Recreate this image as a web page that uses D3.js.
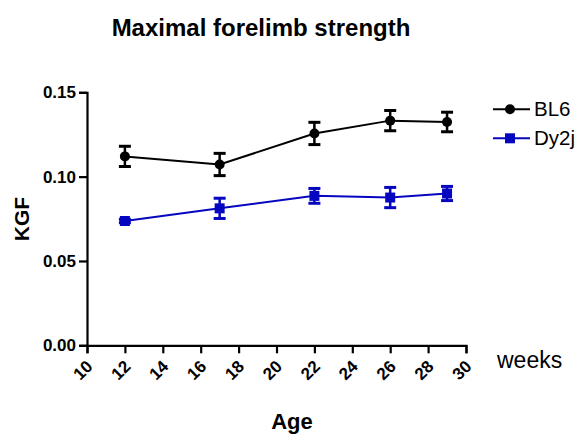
<!DOCTYPE html>
<html><head><meta charset="utf-8">
<script src="https://cdn.jsdelivr.net/npm/d3@7"></script>
<style>body{margin:0;background:#fff}svg{display:block}text{font-family:"Liberation Sans",Arial,sans-serif}</style>
</head><body>
<svg id="c" width="579" height="434"></svg>
<script>
const weeks = [12, 17, 22, 26, 29];
const bl6Mean = [0.1120, 0.1072, 0.1256, 0.1332, 0.1324];
const bl6Sem  = [0.0060, 0.0066, 0.0066, 0.0060, 0.0058];
const dyMean  = [0.0737, 0.0812, 0.0886, 0.0876, 0.0900];
const dySem   = [0.0010, 0.0060, 0.0044, 0.0060, 0.0042];
const xTicks = [10,12,14,16,18,20,22,24,26,28,30];
const yTicks = [0, 0.05, 0.10, 0.15];

const svg = d3.select("#c");
const x = d3.scaleLinear().domain([10,30]).range([87,466]);
const y = d3.scaleLinear().domain([0,0.15]).range([345.3,92.3]);

// title
svg.append("text").attr("x",261).attr("y",36).attr("text-anchor","middle")
  .attr("font-size",24).attr("font-weight","bold").text("Maximal forelimb strength");

// axes
const yAxis = d3.axisLeft(y).tickValues(yTicks).tickFormat(d3.format(".2f")).tickSizeOuter(0).tickSize(8).tickPadding(3);
const gy = svg.append("g").attr("transform","translate(87,0)").call(yAxis);
gy.select(".domain").attr("stroke","#000").attr("stroke-width",2.2);
gy.selectAll(".tick line").attr("stroke","#000").attr("stroke-width",2.2);
gy.selectAll(".tick text").attr("font-size",17).attr("font-weight","bold").attr("fill","#000")
  .attr("font-family","Liberation Sans, Arial, sans-serif");

const xAxis = d3.axisBottom(x).tickValues(xTicks).tickSizeOuter(0).tickSize(8).tickFormat(d=>d);
const gx = svg.append("g").attr("transform","translate(0,345.3)").call(xAxis);
gx.select(".domain").attr("stroke","#000").attr("stroke-width",2.2);
gx.selectAll(".tick line").attr("stroke","#000").attr("stroke-width",2.2);
gx.selectAll(".tick text").attr("font-size",17).attr("font-weight","bold").attr("fill","#000")
  .attr("font-family","Liberation Sans, Arial, sans-serif")
  .attr("text-anchor","end").attr("y",0).attr("dy","0.35em")
  .attr("transform","translate(2,18) rotate(-45)");

// axis titles
svg.append("text").attr("transform","translate(29,219) rotate(-90)").attr("text-anchor","middle")
  .attr("font-size",21).attr("font-weight","bold").text("KGF");
svg.append("text").attr("x",292).attr("y",429).attr("text-anchor","middle")
  .attr("font-size",22).attr("font-weight","bold").text("Age");
svg.append("text").attr("x",497).attr("y",368).attr("font-size",23).text("weeks");

// series
function drawSeries(mean, sem, color, shape) {
  const pts = weeks.map((w,i)=>({w, m:mean[i], s:sem[i]}));
  const g = svg.append("g");
  g.append("path").datum(pts).attr("fill","none").attr("stroke",color).attr("stroke-width",2)
    .attr("d", d3.line().x(d=>x(d.w)).y(d=>y(d.m)));
  const eb = g.selectAll(".eb").data(pts).enter().append("g");
  eb.append("line").attr("x1",d=>x(d.w)).attr("x2",d=>x(d.w))
    .attr("y1",d=>y(d.m+d.s)).attr("y2",d=>y(d.m-d.s)).attr("stroke",color).attr("stroke-width",2.5);
  [1,-1].forEach(sg=>{
    eb.append("line").attr("x1",d=>x(d.w)-6).attr("x2",d=>x(d.w)+6)
      .attr("y1",d=>y(d.m+sg*d.s)).attr("y2",d=>y(d.m+sg*d.s)).attr("stroke",color).attr("stroke-width",3);
  });
  if (shape==="circle") {
    g.selectAll(".mk").data(pts).enter().append("circle").attr("cx",d=>x(d.w)).attr("cy",d=>y(d.m))
      .attr("r",5).attr("fill",color);
  } else {
    g.selectAll(".mk").data(pts).enter().append("rect").attr("x",d=>x(d.w)-5).attr("y",d=>y(d.m)-5)
      .attr("width",10).attr("height",10).attr("fill",color);
  }
}
drawSeries(bl6Mean, bl6Sem, "#000", "circle");
drawSeries(dyMean, dySem, "#0606c0", "square");

// legend
const legend = [{name:"BL6", color:"#000", shape:"circle", y:109.3},{name:"Dy2j", color:"#0606c0", shape:"square", y:138.3}];
legend.forEach(l=>{
  svg.append("line").attr("x1",493).attr("x2",530).attr("y1",l.y).attr("y2",l.y).attr("stroke",l.color).attr("stroke-width",2);
  if (l.shape==="circle") svg.append("circle").attr("cx",510).attr("cy",l.y).attr("r",5).attr("fill",l.color);
  else svg.append("rect").attr("x",505).attr("y",l.y-5).attr("width",10).attr("height",10).attr("fill",l.color);
  svg.append("text").attr("x",534).attr("y",l.y+7).attr("font-size",20.5).text(l.name);
});
</script>
</body></html>
